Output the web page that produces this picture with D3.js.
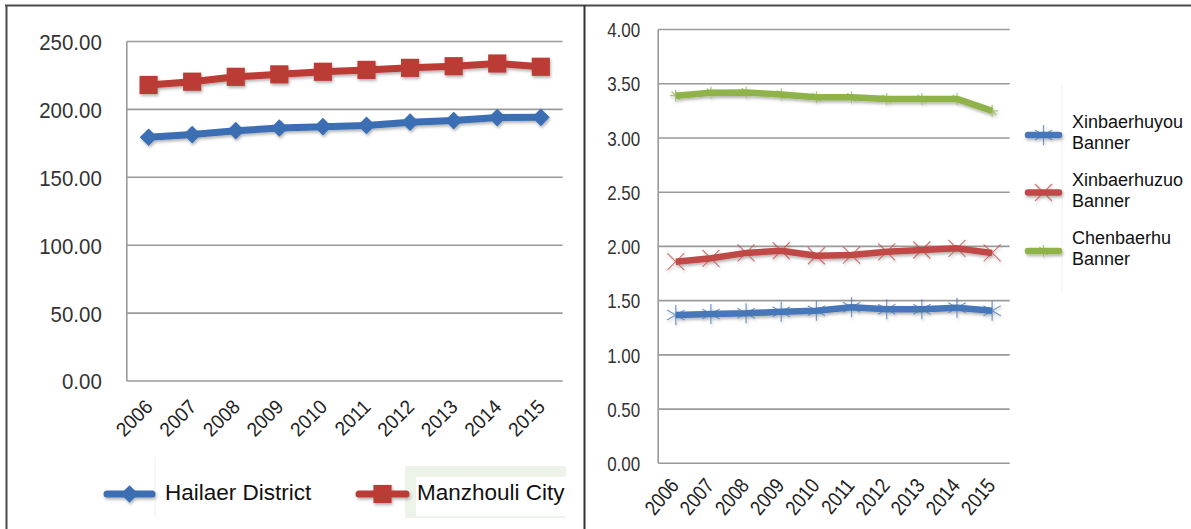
<!DOCTYPE html>
<html>
<head>
<meta charset="utf-8">
<script src="https://cdn.jsdelivr.net/npm/d3@7"></script>
<style>
  html, body { margin: 0; padding: 0; background: #fff; }
  svg { display: block; }
</style>
</head>
<body>
<svg id="chart" width="1191" height="529"></svg>
<script>
// Years shared by both panels
const years = ["2006","2007","2008","2009","2010","2011","2012","2013","2014","2015"];

// Left panel series
const hailaer    = [179.5, 181.5, 184.3, 186.3, 187.3, 188.2, 190.6, 191.8, 194.0, 194.2];
const manzhouli  = [218.0, 220.4, 224.0, 225.8, 227.7, 229.1, 230.6, 231.8, 233.8, 231.4];
const leftTicks  = [0, 50, 100, 150, 200, 250];

// Right panel series
const xinYou     = [1.367, 1.377, 1.383, 1.398, 1.407, 1.438, 1.420, 1.420, 1.435, 1.407];
const xinZuo     = [1.859, 1.890, 1.940, 1.960, 1.914, 1.920, 1.950, 1.967, 1.982, 1.940];
const chenbaerhu = [3.390, 3.417, 3.420, 3.400, 3.375, 3.375, 3.360, 3.360, 3.360, 3.250];
const rightTicks = [0, 0.5, 1, 1.5, 2, 2.5, 3, 3.5, 4];

const leftNames  = ["Hailaer District", "Manzhouli City"];
const rightNames = [["Xinbaerhuyou", "Banner"], ["Xinbaerhuzuo", "Banner"], ["Chenbaerhu", "Banner"]];

const FONT = "Liberation Sans, Arial, sans-serif";

const svg = d3.select("#chart");
const defs = svg.append("defs");
const shadow = defs.append("filter").attr("id", "shadow")
  .attr("x", "-20%").attr("y", "-50%").attr("width", "140%").attr("height", "200%");
shadow.append("feDropShadow").attr("dx", 1).attr("dy", 2).attr("stdDeviation", 1.6)
  .attr("flood-color", "#000").attr("flood-opacity", 0.3);

// Frame lines
svg.append("line").attr("x1", 5).attr("x2", 1191).attr("y1", 5.5).attr("y2", 5.5)
  .attr("stroke", "#4a4a4a").attr("stroke-width", 2);
svg.append("line").attr("x1", 6.5).attr("x2", 6.5).attr("y1", 5).attr("y2", 529)
  .attr("stroke", "#4a4a4a").attr("stroke-width", 2);
svg.append("line").attr("x1", 584.5).attr("x2", 584.5).attr("y1", 5).attr("y2", 529)
  .attr("stroke", "#333").attr("stroke-width", 2);

// ---------- Left panel ----------
const L = { left: 126.8, right: 562.6, top: 41.5, bottom: 381 };
const xL = d3.scalePoint().domain(years).range([L.left, L.right]).padding(0.5);
const yL = d3.scaleLinear().domain([0, 250]).range([L.bottom, L.top]);

const gL = svg.append("g");
gL.append("g").selectAll("line").data(leftTicks).join("line")
  .attr("x1", L.left).attr("x2", L.right)
  .attr("y1", d => yL(d)).attr("y2", d => yL(d))
  .attr("stroke", "#9a9a9a").attr("stroke-width", 1.6);
gL.append("line").attr("x1", L.left).attr("x2", L.left).attr("y1", L.top).attr("y2", L.bottom)
  .attr("stroke", "#9a9a9a").attr("stroke-width", 1.6);

const yAxisL = d3.axisLeft(yL).tickValues(leftTicks).tickFormat(d3.format(".2f")).tickSize(0).tickPadding(0);
gL.append("g").attr("transform", `translate(${L.left - 25},0)`).call(yAxisL)
  .call(g => g.select(".domain").remove())
  .selectAll("text").attr("font-family", FONT)
  .attr("font-size", 22).attr("fill", "#333").attr("dy", "0.36em")
  .attr("transform", "scale(0.93,1)");

const xAxisL = d3.axisBottom(xL).tickSize(0).tickPadding(0);
gL.append("g").attr("transform", `translate(0,${L.bottom})`).call(xAxisL)
  .call(g => g.select(".domain").remove())
  .selectAll("text").attr("font-family", FONT)
  .attr("font-size", 20).attr("fill", "#222")
  .attr("text-anchor", "end")
  .attr("transform", "translate(0,22) rotate(-45) scale(0.95,1)")
  .attr("dy", "0.35em").attr("y", 0);

const lineL = (vals) => d3.line().x((d, i) => xL(years[i])).y(d => yL(d))(vals);

const symDiamond = d3.symbol(d3.symbolDiamond2, 200);
const symSquare = d3.symbol(d3.symbolSquare, 330);
const leftSeries = [
  { vals: hailaer, color: "#3a6eb2", sym: symDiamond },
  { vals: manzhouli, color: "#bb3a35", sym: symSquare }
];
leftSeries.forEach(s => {
  const g = gL.append("g").attr("filter", "url(#shadow)");
  g.append("path").attr("d", lineL(s.vals)).attr("fill", "none")
    .attr("stroke", s.color).attr("stroke-width", 7).attr("stroke-linejoin", "round");
  g.selectAll("path.m").data(s.vals).join("path").attr("class", "m")
    .attr("d", s.sym)
    .attr("transform", (d, i) => `translate(${xL(years[i])},${yL(d)})`)
    .attr("fill", s.color);
});

// Left legend
const legL = svg.append("g");
legL.append("line").attr("x1", 155).attr("x2", 155).attr("y1", 457).attr("y2", 518)
  .attr("stroke", "#f0f0f0").attr("stroke-width", 1);
legL.append("rect").attr("x", 405).attr("y", 466).attr("width", 161).attr("height", 52).attr("fill", "#eef3ea");
legL.append("rect").attr("x", 416).attr("y", 477).attr("width", 150).attr("height", 39).attr("fill", "#fff");
[[107, 152], [359, 406]].forEach((p, i) => {
  const s = leftSeries[i];
  const g = legL.append("g").attr("filter", "url(#shadow)");
  g.append("line").attr("x1", p[0]).attr("x2", p[1]).attr("y1", 494).attr("y2", 494)
    .attr("stroke", s.color).attr("stroke-width", 7).attr("stroke-linecap", "round");
  g.append("path").attr("d", s.sym).attr("transform", `translate(${(p[0] + p[1]) / 2},494)`).attr("fill", s.color);
  legL.append("text").attr("x", i === 0 ? 165 : 417).attr("y", 500)
    .attr("font-family", FONT).attr("font-size", 22.5)
    .attr("fill", "#111").text(leftNames[i]);
});

// ---------- Right panel ----------
const R = { left: 658.2, right: 1009.7, top: 29.5, bottom: 463.3 };
const xR = d3.scalePoint().domain(years).range([R.left, R.right]).padding(0.5);
const yR = d3.scaleLinear().domain([0, 4]).range([R.bottom, R.top]);

const gR = svg.append("g");
gR.append("g").selectAll("line").data(rightTicks).join("line")
  .attr("x1", R.left).attr("x2", R.right)
  .attr("y1", d => yR(d)).attr("y2", d => yR(d))
  .attr("stroke", "#9a9a9a").attr("stroke-width", 1.6);
gR.append("line").attr("x1", R.left).attr("x2", R.left).attr("y1", R.top).attr("y2", R.bottom)
  .attr("stroke", "#9a9a9a").attr("stroke-width", 1.6);

const yAxisR = d3.axisLeft(yR).tickValues(rightTicks).tickFormat(d3.format(".2f")).tickSize(0).tickPadding(0);
gR.append("g").attr("transform", `translate(${R.left - 18},0)`).call(yAxisR)
  .call(g => g.select(".domain").remove())
  .selectAll("text").attr("font-family", FONT)
  .attr("font-size", 20).attr("fill", "#333").attr("dy", "0.36em")
  .attr("transform", "scale(0.85,1)");

const xAxisR = d3.axisBottom(xR).tickSize(0).tickPadding(0);
gR.append("g").attr("transform", `translate(0,${R.bottom})`).call(xAxisR)
  .call(g => g.select(".domain").remove())
  .selectAll("text").attr("font-family", FONT)
  .attr("font-size", 21).attr("fill", "#222")
  .attr("text-anchor", "end")
  .attr("transform", "translate(-2,18) rotate(-50) scale(0.85,1)")
  .attr("dy", "0.35em").attr("y", 0);

const lineR = (vals) => d3.line().x((d, i) => xR(years[i])).y(d => yR(d))(vals);

// Star-like markers built from short strokes
const asterisk = (r) => `M0,${-r}L0,${r}M${-r * 0.87},${-r * 0.5}L${r * 0.87},${r * 0.5}M${-r * 0.87},${r * 0.5}L${r * 0.87},${-r * 0.5}`;
const cross = (r) => `M${-r},${-r}L${r},${r}M${-r},${r}L${r},${-r}`;
const star = (r) => `M0,${-r}L0,${r}M${-r},0L${r},0M${-r * 0.7},${-r * 0.7}L${r * 0.7},${r * 0.7}`;

const rightSeries = [
  { vals: xinYou, color: "#4677b8", mark: asterisk(10) },
  { vals: xinZuo, color: "#c04a46", mark: cross(8.5) },
  { vals: chenbaerhu, color: "#8fb34a", mark: star(6) }
];
rightSeries.forEach(s => {
  const g = gR.append("g").attr("filter", "url(#shadow)");
  g.append("path").attr("d", lineR(s.vals)).attr("fill", "none")
    .attr("stroke", s.color).attr("stroke-width", 6.5).attr("stroke-linejoin", "round");
  g.selectAll("path.m").data(s.vals).join("path").attr("class", "m")
    .attr("d", s.mark)
    .attr("transform", (d, i) => `translate(${xR(years[i])},${yR(d)})`)
    .attr("fill", "none").attr("stroke", s.color).attr("stroke-width", 1.2).attr("opacity", 0.75);
});

// Right legend
const legR = svg.append("g");
legR.append("line").attr("x1", 1062).attr("x2", 1062).attr("y1", 85).attr("y2", 292)
  .attr("stroke", "#eeeeee").attr("stroke-width", 1);
const legY = [135, 192.5, 251];
rightSeries.forEach((s, i) => {
  const g = legR.append("g").attr("filter", "url(#shadow)");
  g.append("line").attr("x1", 1028).attr("x2", 1059).attr("y1", legY[i]).attr("y2", legY[i])
    .attr("stroke", s.color).attr("stroke-width", 6.5).attr("stroke-linecap", "round");
  g.append("path").attr("d", s.mark).attr("transform", `translate(1043.5,${legY[i]})`)
    .attr("fill", "none").attr("stroke", s.color).attr("stroke-width", 1.2).attr("opacity", 0.75);
  const t = legR.append("text").attr("x", 1072).attr("y", legY[i] - 7)
    .attr("font-family", FONT).attr("font-size", 18).attr("fill", "#111");
  rightNames[i].forEach((w, k) => {
    t.append("tspan").attr("x", 1072).attr("dy", k === 0 ? 0 : 21).text(w);
  });
});
</script>
</body>
</html>
